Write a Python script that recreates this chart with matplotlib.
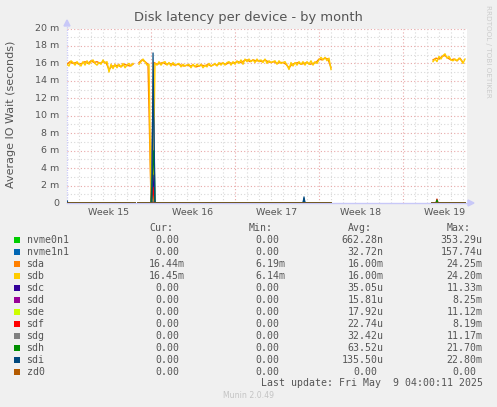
import numpy as np
import matplotlib
matplotlib.use('Agg')
import matplotlib.pyplot as plt
from matplotlib.patches import Rectangle, Polygon

W, H = 497, 407
nan = np.nan

# sdb, sampled every 4 hours from the start of week 15 (days)
sdb = [15.9, 15.7, 16.3, 16.1, 15.8, 16.2, 15.9, 15.7, 16.2, 15.8, 16.3, 15.9,
       16.2, 16.4, 16.0, 15.8, 16.1, 15.9, 16.4, 16.0, 16.2, 15.0, 15.9, 15.4,
       15.9, 15.5, 15.9, 15.6, 16.0, 15.5, 15.8, 16.0, 15.7, 16.0, nan, nan,
       15.9, 16.2, 16.5, 16.2, 15.8, 15.9, 0.3, 0.2, 16.0, 15.8, 16.2, 15.8,
       16.1, 16.2, 15.8, 16.1, 15.7, 16.1, 15.8, 15.9, 16.0, 15.6, 15.9, 15.7,
       15.8, 15.9, 15.5, 15.9, 15.6, 15.9, 15.7, 15.9, 15.5, 15.8, 15.6, 16.0,
       15.7, 15.8, 16.0, 15.7, 16.1, 15.8, 16.1, 15.8, 16.1, 16.2, 15.8, 16.2,
       15.9, 16.3, 16.0, 16.4, 15.9, 16.5, 16.2, 16.5, 16.2, 16.4, 16.1, 16.5,
       16.2, 16.4, 16.1, 16.5, 16.0, 16.3, 16.1, 16.2, 16.3, 15.9, 16.3, 16.0,
       16.1, 16.2, 15.8, 15.3, 16.1, 15.7, 16.1, 15.8, 16.2, 15.9, 16.2, 15.8,
       16.2, 15.9, 16.3, 15.8, 16.2, 16.0, 16.4, 16.7, 16.4, 16.7, 16.3, 16.6,
       15.3] + [nan] * 50 + [
       16.2, 16.5, 16.2, 16.8, 16.5, 16.9, 17.1, 16.6, 16.8, 16.4, 16.3, 16.5,
       16.3, 16.6, 16.4, 16.0, 16.5]
t_sdb = np.arange(len(sdb)) / 6.0

# sda, sampled every 6 hours
sda = [15.9, 16.2, 16.0, 16.1, 15.9, 16.0, 16.2, 16.0, 16.3, 16.1, 16.2, 16.0,
       16.2, 16.1, 15.3, 15.7, 15.7, 15.8, 15.6, 15.9, 15.8, 15.7, 15.9, nan,
       16.1, 16.4, 16.2, 15.9, 0.4, 16.1, 15.9, 16.0, 16.1, 15.9, 16.0, 15.9,
       15.8, 15.9, 15.8, 15.7, 15.8, 15.7, 15.8, 15.6, 15.7, 15.8, 15.7, 15.9,
       15.7, 15.9, 15.8, 16.0, 16.0, 15.9, 16.1, 16.0, 16.1, 16.2, 16.1, 16.3,
       16.4, 16.2, 16.4, 16.3, 16.3, 16.2, 16.4, 16.2, 16.1, 16.2, 16.0, 16.1,
       16.1, 15.9, 15.5, 15.9, 16.0, 16.1, 15.9, 16.0, 16.1, 15.9, 16.0, 16.1,
       16.5, 16.4, 16.6, 16.5, 15.5] + [nan] * 33 + [
       16.4, 16.6, 16.5, 16.8, 16.9, 16.6, 16.4, 16.5, 16.3, 16.6, 16.1]
t_sda = np.arange(len(sda)) / 4.0

# the other devices sit at zero apart from a few spikes
t_dev = [0.0, 0.08, 0.17, 5.67, 5.75, 5.92, 7.0, 7.08, 7.17, 7.25, 7.33,
         19.67, 19.75, 19.83, 22.0, 22.1, 30.42, 30.75, 30.83, 30.92, 33.17]
dev = {
    'nvme0n1': [0, 0, 0, 0, nan, 0, 0, 0, 0.3, 0, 0, 0, 0, 0, 0, nan, 0, 0, 0, 0, 0],
    'nvme1n1': [0, 0, 0, 0, nan, 0, 0, 0, 0, 0, 0, 0, 0.5, 0, 0, nan, 0, 0, 0, 0, 0],
    'sdc': [0, 0, 0, 0, nan, 0, 0, 1.0, 3.2, 0.8, 0, 0, 0, 0, 0, nan, 0, 0, 0, 0, 0],
    'sdd': [0, 0, 0, 0, nan, 0, 0, 2.6, 1.2, 0, 0, 0, 0, 0, 0, nan, 0, 0, 0, 0, 0],
    'sde': [0, 0, 0, 0, nan, 0, 0, 0.4, 1.0, 0.3, 0, 0, 0, 0, 0, nan, 0, 0, 0, 0, 0],
    'sdf': [0, 0, 0, 0, nan, 0, 0, 0.6, 1.8, 0.5, 0, 0, 0, 0, 0, nan, 0, 0, 0.45, 0, 0],
    'sdg': [0, 0, 0, 0, nan, 0, 0, 6.0, 10.5, 9.0, 0, 0, 0, 0, 0, nan, 0, 0, 0, 0, 0],
    'sdh': [0, 0, 0, 0, nan, 0, 0, 2.0, 4.5, 6.0, 0, 0, 0, 0, 0, nan, 0, 0, 0.35, 0, 0],
    'sdi': [0.25, 0, 0, 0, nan, 0, 0, 0, 17.2, 8.0, 0, 0, 0.7, 0, 0, nan, 0, 0, 0, 0, 0],
    'zd0': [0, 0, 0, 0, nan, 0, 0, 0, 0, 0, 0, 0, 0, 0, 0, nan, 0, 0, 0, 0, 0],
}

names = ['nvme0n1', 'nvme1n1', 'sda', 'sdb', 'sdc', 'sdd', 'sde', 'sdf',
         'sdg', 'sdh', 'sdi', 'zd0']
colors = ['#00CC00', '#0066B3', '#FF8000', '#FFCC00', '#330099', '#990099',
          '#CCFF00', '#FF0000', '#808080', '#008F00', '#00487D', '#B35A00']
cur = ['0.00 ', '0.00 ', '16.44m', '16.45m', '0.00 ', '0.00 ', '0.00 ', '0.00 ',
       '0.00 ', '0.00 ', '0.00 ', '0.00 ']
mins = ['0.00 ', '0.00 ', '6.19m', '6.14m', '0.00 ', '0.00 ', '0.00 ', '0.00 ',
        '0.00 ', '0.00 ', '0.00 ', '0.00 ']
avgs = ['662.28n', '32.72n', '16.00m', '16.00m', '35.05u', '15.81u', '17.92u',
        '22.74u', '32.42u', '63.52u', '135.50u', '0.00 ']
maxs = ['353.29u', '157.74u', '24.25m', '24.20m', '11.33m', '8.25m', '11.12m',
        '8.19m', '11.17m', '21.70m', '22.80m', '0.00 ']

week_labels = ['Week 15', 'Week 16', 'Week 17', 'Week 18', 'Week 19']
y_ticks = [0, 2, 4, 6, 8, 10, 12, 14, 16, 18, 20]
x_max = 400 / 12.0  # 12 px per day


def fx(px):
    return px / W


def fy(py):
    return 1 - py / H


fig = plt.figure(figsize=(W / 100, H / 100), dpi=100)
fig.patch.set_facecolor('#F0F0F0')
ax = fig.add_axes([fx(67), fy(203), 400 / W, 174.5 / H])
ax.set_facecolor('white')
ax.set_xlim(0, x_max)
ax.set_ylim(0, 20)
for s in ax.spines.values():
    s.set_visible(False)
ax.set_xticks([])
ax.set_yticks([])

# grid: daily / 1m minor, weekly / 2m major
for d in range(1, 34):
    if d % 7:
        ax.axvline(d, color='#D8D8D8', lw=0.8, ls=(0, (1, 2)), zorder=1)
for v in range(1, 20):
    if v % 2:
        ax.axhline(v, color='#D8D8D8', lw=0.8, ls=(0, (1, 2)), zorder=1)
for d in range(7, 34, 7):
    ax.axvline(d, color='#E8A8A8', lw=0.8, ls=(0, (1, 2)), zorder=1.5)
for v in y_ticks[1:]:
    ax.axhline(v, color='#E8A8A8', lw=0.8, ls=(0, (1, 2)), zorder=1.5)

# axes with arrows
ax.plot([0, 0], [0, 20.3], color='#C8C8F8', lw=0.9, ls=(0, (1, 1)), zorder=2, clip_on=False)
ax.plot([0, x_max + 0.2], [0, 0], color='#C8C8F8', lw=1.0, zorder=2, clip_on=False)
fig.patches.append(Polygon([[fx(64), fy(26)], [fx(70), fy(26)], [fx(67), fy(20)]],
                           closed=True, transform=fig.transFigure, color='#C8C8F8'))
fig.patches.append(Polygon([[fx(468), fy(200)], [fx(468), fy(206)], [fx(474), fy(203)]],
                           closed=True, transform=fig.transFigure, color='#C8C8F8'))

# data, drawn in rrd order (clipped, so the zero lines only show half width)
lw = 1.0
for name, c in zip(names, colors):
    if name == 'sda':
        ax.plot(t_sda, sda, color=c, lw=lw, zorder=3)
    elif name == 'sdb':
        ax.plot(t_sdb, sdb, color=c, lw=lw, zorder=3)
    elif name == 'zd0':
        ax.plot(t_dev, dev[name], color=c, lw=1.2, alpha=0.7, zorder=3)
    else:
        ax.plot(t_dev, dev[name], color=c, lw=0.9, zorder=3)

txt = '#555555'
fig.text(fx(248), fy(18), 'Disk latency per device - by month', ha='center', va='center',
         fontsize=9.4, color=txt)
for v in y_ticks:
    lab = '0' if v == 0 else '%d m' % v
    fig.text(fx(59.5), fy(203 - v * 8.725), lab, ha='right', va='center', fontsize=6.8, color=txt)
for i, lab in enumerate(week_labels):
    fig.text(fx(67 + 42 + 84 * i), fy(212.5), lab, ha='center', va='center', fontsize=6.8, color=txt)
fig.text(fx(11), fy(114), 'Average IO Wait (seconds)', rotation=90, ha='center', va='center',
         fontsize=8.0, color=txt)
fig.text(fx(488), fy(5), 'RRDTOOL / TOBI OETIKER', rotation=270, ha='center', va='top',
         fontsize=5.2, color='#CCCCCC')

# legend table
mono = 'DejaVu Sans Mono'
fs = 7.1
for lab, x0 in zip(['Cur:', 'Min:', 'Avg:', 'Max:'], [149, 249, 348, 447]):
    fig.text(fx(x0), fy(227.5), lab, ha='left', va='center', fontsize=fs, family=mono, color=txt)
for i, name in enumerate(names):
    yc = 240 + 12 * i
    fig.patches.append(Rectangle((fx(14), fy(yc + 3)), 6 / W, 6 / H, transform=fig.transFigure,
                                 facecolor=colors[i], edgecolor='none'))
    fig.text(fx(26.5), fy(yc), name, ha='left', va='center', fontsize=fs, family=mono, color=txt)
    for col, xr in zip([cur, mins, avgs, maxs], [185, 285, 383.5, 482.7]):
        s = col[i]
        x_right = xr
        if s.endswith(' '):
            s = s.strip()
            x_right = xr - 6
        fig.text(fx(x_right), fy(yc), s, ha='right', va='center', fontsize=fs, family=mono, color=txt)
fig.text(fx(482.7), fy(383.5), 'Last update: Fri May  9 04:00:11 2025', ha='right', va='center',
         fontsize=fs, family=mono, color=txt)
fig.text(fx(248.5), fy(396), 'Munin 2.0.49', ha='center', va='center', fontsize=5.6, color='#C4C4C4')

fig.savefig('out.png', dpi=100, facecolor=fig.get_facecolor())
